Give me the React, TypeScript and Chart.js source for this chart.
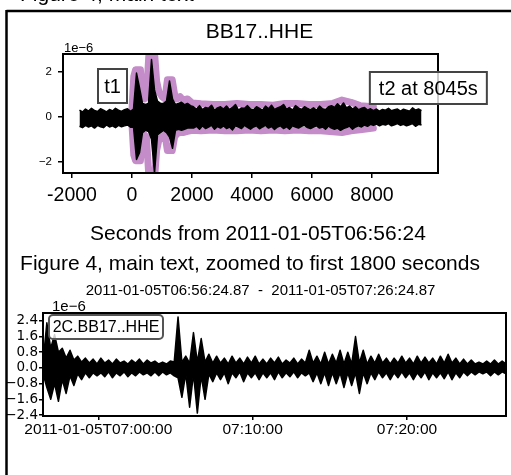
import React, { useEffect, useRef } from "react";
import { Chart, registerables } from "chart.js";

Chart.register(...registerables);

const FONT = '"Liberation Sans", Arial, Helvetica, sans-serif';
const DEJAVU = '"DejaVu Sans", sans-serif';

// ---------- top panel (seconds from 2011-01-05T06:56:24), units 1e-6 ----------
// Trace drawn as per-bin max / min (min-max decimation, bin = 100 s)
const TOP_T0 = -1750;
const TOP_DT = 100;
const TOP_MAX = [
  0.3, 0.22, 0.35, 0.26, 0.38, 0.28, 0.24, 0.36, 0.3, 0.22,
  0.33, 0.26, 0.38, 0.3, 0.24, 0.32, 0.36, 0.25, 0.35,
  1.95, 1.3, 0.6, 0.55, 0.6, 2.55, 1.2, 0.7, 0.6, 0.6,
  0.7, 1.6, 0.8, 0.55, 0.6, 0.65, 0.55, 0.6, 0.5,
  0.45, 0.35, 0.5, 0.32, 0.42, 0.38, 0.52, 0.3, 0.4, 0.45,
  0.35, 0.48, 0.33, 0.42, 0.55, 0.3, 0.4, 0.38, 0.5, 0.35,
  0.32, 0.45, 0.38, 0.3, 0.48, 0.36, 0.52, 0.33, 0.4, 0.45,
  0.55, 0.35, 0.42, 0.3, 0.5, 0.4, 0.33, 0.45, 0.38, 0.32,
  0.4, 0.3, 0.48, 0.36, 0.33, 0.45, 0.5, 0.42, 0.58, 0.45,
  0.62, 0.4, 0.48, 0.35, 0.45, 0.32, 0.38, 0.42, 0.3, 0.36,
  0.28, 0.35, 0.25, 0.33, 0.3, 0.38, 0.27, 0.32, 0.35, 0.26,
  0.34, 0.3, 0.25, 0.4, 0.3, 0.35, 0.28,
];
const TOP_MIN = [
  -0.42, -0.48, -0.38, -0.45, -0.4, -0.5, -0.38, -0.44, -0.48, -0.36,
  -0.45, -0.4, -0.48, -0.38, -0.44, -0.4, -0.36, -0.46, -0.45,
  -1.9, -1.6, -0.7, -0.6, -0.65, -1.0, -2.5, -0.8, -0.7, -0.6,
  -0.7, -0.9, -1.4, -0.6, -0.55, -0.6, -0.55, -0.5, -0.5,
  -0.5, -0.42, -0.55, -0.4, -0.52, -0.45, -0.38, -0.55, -0.43, -0.5,
  -0.4, -0.52, -0.45, -0.58, -0.4, -0.45, -0.52, -0.38, -0.47, -0.55,
  -0.45, -0.4, -0.53, -0.45, -0.38, -0.5, -0.43, -0.56, -0.45, -0.4,
  -0.52, -0.44, -0.55, -0.4, -0.45, -0.5, -0.42, -0.38, -0.48, -0.52,
  -0.45, -0.4, -0.5, -0.45, -0.55, -0.42, -0.5, -0.55, -0.5, -0.6,
  -0.52, -0.48, -0.42, -0.55, -0.45, -0.4, -0.45, -0.36, -0.42, -0.33,
  -0.38, -0.32, -0.4, -0.33, -0.36, -0.3, -0.4, -0.35, -0.3, -0.38,
  -0.33, -0.4, -0.35, -0.3, -0.42, -0.33, -0.36,
];
const ENV_TIMES = [0, 60, 120, 280, 340, 420, 480, 560, 760, 820, 900, 1000, 1100, 1180, 1340, 1420, 1500, 1600, 1700, 1850, 2000, 2300, 2700, 3100, 3500, 3900, 4300, 4700, 5100, 5500, 5900, 6300, 6700, 7000, 7300, 7600, 8045];
const ENV_UPPER = [0.35, 1.8, 2.1, 2.1, 1.0, 0.8, 0.9, 2.7, 2.7, 1.6, 1.1, 0.9, 0.8, 1.65, 1.65, 1.0, 0.8, 0.9, 0.75, 0.8, 0.62, 0.58, 0.55, 0.55, 0.6, 0.55, 0.55, 0.52, 0.6, 0.6, 0.55, 0.55, 0.6, 0.75, 0.65, 0.5, 0.45];
const ENV_LOWER = [-0.35, -1.7, -1.95, -1.95, -1.0, -0.8, -0.9, -2.6, -2.6, -1.5, -1.0, -0.9, -0.8, -1.5, -1.5, -0.9, -0.75, -0.7, -0.7, -0.65, -0.6, -0.62, -0.58, -0.62, -0.62, -0.58, -0.62, -0.58, -0.62, -0.58, -0.62, -0.62, -0.66, -0.7, -0.62, -0.58, -0.5];
const TOP_X_TICKS = [-2000, 0, 2000, 4000, 6000, 8000];
const TOP_X_LABELS = ["-2000", "0", "2000", "4000", "6000", "8000"];
const TOP_Y_TICKS = [-2, 0, 2];
const TOP_Y_LABELS = ["\u22122", "0", "2"];
const T2_SECONDS = 8045;

// ---------- bottom panel (seconds from 06:56:24.87), units 1e-6 ----------
const BOT_T0 = 0;
const BOT_DT = 15;
const BOT_MAX = [
  0.3, 2.3, 1.0, 1.7, 0.8, 1.0, 0.5, 0.9, 0.4, 0.6,
  0.3, 0.5, 0.25, 0.45, 0.2, 0.5, 0.25, 0.4, 0.2, 0.45,
  0.25, 0.35, 0.2, 0.4, 0.25, 0.45, 0.2, 0.4, 0.25, 0.35,
  0.2, 0.3, 0.2, 0.35, 0.3, 2.6, 0.3, 0.6, 0.25, 1.8,
  0.3, 1.5, 0.3, 0.7, 0.25, 0.6, 0.25, 0.5, 0.2, 0.6,
  0.25, 0.5, 0.2, 0.55, 0.25, 0.6, 0.2, 0.45, 0.2, 0.5,
  0.25, 0.55, 0.2, 0.4, 0.25, 0.5, 0.2, 0.45, 0.25, 0.9,
  0.25, 0.6, 0.2, 0.8, 0.2, 0.7, 0.25, 0.9, 0.2, 0.8,
  0.2, 1.6, 0.25, 0.9, 0.2, 0.6, 0.25, 0.7, 0.25, 0.5,
  0.2, 0.5, 0.25, 0.6, 0.25, 0.5, 0.2, 0.6, 0.25, 0.55,
  0.25, 0.5, 0.2, 0.6, 0.25, 0.7, 0.25, 0.5, 0.2, 0.45,
  0.2, 0.4, 0.2, 0.3, 0.2, 0.35, 0.2, 0.4, 0.2, 0.35,
  0.2,
];
const BOT_MIN = [
  -0.3, -1.0, -1.6, -0.8, -1.7, -0.6, -1.3, -0.4, -0.9, -0.3,
  -0.6, -0.25, -0.5, -0.25, -0.4, -0.25, -0.45, -0.2, -0.5, -0.25,
  -0.4, -0.2, -0.45, -0.25, -0.4, -0.2, -0.35, -0.25, -0.4, -0.2,
  -0.4, -0.2, -0.35, -0.25, -0.4, -0.5, -1.5, -0.3, -2.0, -0.3,
  -2.3, -0.4, -1.6, -0.3, -0.7, -0.25, -0.6, -0.25, -0.8, -0.25,
  -0.5, -0.2, -0.7, -0.25, -0.5, -0.25, -0.6, -0.25, -0.5, -0.25,
  -0.6, -0.2, -0.5, -0.25, -0.45, -0.2, -0.5, -0.25, -0.4, -0.25,
  -0.7, -0.25, -0.8, -0.25, -0.9, -0.25, -0.8, -0.25, -1.0, -0.25,
  -0.9, -0.25, -1.3, -0.25, -0.8, -0.25, -0.6, -0.2, -0.5, -0.25,
  -0.6, -0.25, -0.5, -0.2, -0.5, -0.25, -0.6, -0.25, -0.5, -0.2,
  -0.6, -0.25, -0.5, -0.25, -0.55, -0.2, -0.6, -0.25, -0.5, -0.2,
  -0.4, -0.2, -0.35, -0.2, -0.3, -0.2, -0.4, -0.2, -0.35, -0.2,
  -0.3,
];
const BOT_X_TICKS = [215.13, 815.13, 1415.13];
const BOT_X_LABELS = ["2011-01-05T07:00:00", "07:10:00", "07:20:00"];
const BOT_Y_TICKS = [-2.4, -1.6, -0.8, 0.0, 0.8, 1.6, 2.4];
const BOT_Y_LABELS = ["\u22122.4", "\u22121.6", "\u22120.8", "0.0", "0.8", "1.6", "2.4"];

const toPoints = (t0: number, dt: number, vals: number[]) =>
  vals.map((v, i) => ({ x: t0 + i * dt, y: v }));
const zipPoints = (xs: number[], ys: number[]) => xs.map((x, i) => ({ x, y: ys[i] }));

function roundRect(ctx: CanvasRenderingContext2D, x: number, y: number, w: number, h: number, r: number) {
  ctx.beginPath();
  ctx.moveTo(x + r, y);
  ctx.lineTo(x + w - r, y);
  ctx.arcTo(x + w, y, x + w, y + r, r);
  ctx.lineTo(x + w, y + h - r);
  ctx.arcTo(x + w, y + h, x + w - r, y + h, r);
  ctx.lineTo(x + r, y + h);
  ctx.arcTo(x, y + h, x, y + h - r, r);
  ctx.lineTo(x, y + r);
  ctx.arcTo(x, y, x + r, y, r);
  ctx.closePath();
}

function textBox(ctx: CanvasRenderingContext2D, text: string, cx: number, cy: number, w: number, h: number, size: number) {
  ctx.save();
  ctx.fillStyle = "rgba(255,255,255,0.8)";
  ctx.fillRect(cx - w / 2, cy - h / 2, w, h);
  ctx.strokeStyle = "#444";
  ctx.lineWidth = 2;
  ctx.strokeRect(cx - w / 2, cy - h / 2, w, h);
  ctx.fillStyle = "#000";
  ctx.font = `${size}px ${FONT}`;
  ctx.textAlign = "center";
  ctx.textBaseline = "middle";
  ctx.fillText(text, cx, cy + 1);
  ctx.restore();
}

const topDecor = {
  id: "topDecor",
  afterDraw(chart: any) {
    const ctx: CanvasRenderingContext2D = chart.ctx;
    const a = chart.chartArea;
    const xs = chart.scales.x;
    ctx.save();
    ctx.strokeStyle = "#000";
    ctx.lineWidth = 2.5;
    ctx.beginPath();
    ctx.moveTo(6.5, 11);
    ctx.lineTo(511, 11);
    ctx.moveTo(6.5, 10);
    ctx.lineTo(6.5, chart.height);
    ctx.stroke();
    ctx.fillStyle = "#000";
    ctx.font = `21px ${FONT}`;
    ctx.textAlign = "left";
    ctx.textBaseline = "alphabetic";
    ctx.fillText("Figure 4, main text", 20, 1);
    ctx.textAlign = "center";
    ctx.fillText("BB17..HHE", 259.5, 38);
    ctx.fillText("Seconds from 2011-01-05T06:56:24", 258, 240);
    ctx.textAlign = "left";
    ctx.font = `13px ${FONT}`;
    ctx.fillText("1e\u22126", 64, 52);
    ctx.lineWidth = 2;
    ctx.strokeRect(a.left, a.top, a.right - a.left, a.bottom - a.top);
    ctx.restore();
    textBox(ctx, "t1", 112.5, 86, 29, 34, 20);
    const t2x = xs.getPixelForValue(T2_SECONDS);
    textBox(ctx, `t2 at ${T2_SECONDS}s`, t2x + 55, 88, 117, 32, 20);
  },
};

const botDecor = {
  id: "botDecor",
  afterDraw(chart: any) {
    const ctx: CanvasRenderingContext2D = chart.ctx;
    const a = chart.chartArea;
    ctx.save();
    ctx.strokeStyle = "#000";
    ctx.lineWidth = 2.5;
    ctx.beginPath();
    ctx.moveTo(6.5, 0);
    ctx.lineTo(6.5, chart.height);
    ctx.stroke();
    ctx.fillStyle = "#000";
    ctx.textBaseline = "alphabetic";
    ctx.textAlign = "center";
    ctx.font = `21px ${FONT}`;
    ctx.fillText("Figure 4, main text, zoomed to first 1800 seconds", 250, 20);
    ctx.font = `15px ${FONT}`;
    ctx.fillText("2011-01-05T06:56:24.87  -  2011-01-05T07:26:24.87", 260.5, 45);
    ctx.textAlign = "left";
    ctx.fillText("1e\u22126", 52, 61);
    ctx.lineWidth = 2;
    ctx.strokeRect(a.left, a.top, a.right - a.left, a.bottom - a.top);
    roundRect(ctx, 49, 65, 114, 24, 4);
    ctx.fillStyle = "rgba(255,255,255,0.8)";
    ctx.fill();
    ctx.strokeStyle = "#555";
    ctx.lineWidth = 2;
    ctx.stroke();
    ctx.fillStyle = "#000";
    ctx.font = `16px ${FONT}`;
    ctx.textAlign = "center";
    ctx.textBaseline = "middle";
    ctx.fillText("2C.BB17..HHE", 106, 78);
    ctx.restore();
  },
};

const tickGrid = (len: number) => ({
  display: true,
  drawOnChartArea: false,
  drawTicks: true,
  tickLength: len,
  color: "#000",
  lineWidth: 1.5,
});

const bandSets = (t0: number, dt: number, maxV: number[], minV: number[], w: number, firstIndex: number) => [
  {
    data: toPoints(t0, dt, maxV),
    borderColor: "#000",
    borderWidth: w,
    borderJoinStyle: "round",
    pointRadius: 0,
    fill: false,
    order: 0,
  },
  {
    data: toPoints(t0, dt, minV),
    borderColor: "#000",
    borderWidth: w,
    borderJoinStyle: "round",
    backgroundColor: "#000",
    pointRadius: 0,
    fill: firstIndex,
    order: 0,
  },
];

export default function App() {
  const topRef = useRef<HTMLCanvasElement>(null);
  const botRef = useRef<HTMLCanvasElement>(null);

  useEffect(() => {
    const top = new Chart(topRef.current!, {
      type: "line",
      data: {
        datasets: [
          ...bandSets(TOP_T0, TOP_DT, TOP_MAX, TOP_MIN, 1.5, 0),
          {
            data: zipPoints(ENV_TIMES, ENV_UPPER),
            borderColor: "rgb(196,140,200)",
            borderWidth: 7,
            borderJoinStyle: "round",
            borderCapStyle: "round",
            pointRadius: 0,
            fill: false,
            order: 1,
          },
          {
            data: zipPoints(ENV_TIMES, ENV_LOWER),
            borderColor: "rgb(196,140,200)",
            borderWidth: 7,
            borderJoinStyle: "round",
            borderCapStyle: "round",
            pointRadius: 0,
            fill: false,
            order: 2,
          },
        ],
      },
      options: {
        responsive: false,
        animation: false,
        events: [],
        layout: { padding: { left: 0, top: 54, right: 73, bottom: 0 } },
        plugins: { legend: { display: false }, tooltip: { enabled: false } },
        scales: {
          x: {
            type: "linear",
            min: -2300,
            max: 10200,
            afterFit: (s: any) => { s.height = 77; },
            afterBuildTicks: (s: any) => { s.ticks = TOP_X_TICKS.map((v) => ({ value: v })); },
            ticks: {
              autoSkip: false,
              maxRotation: 0,
              padding: 6,
              color: "#000",
              font: { family: FONT, size: 19.5 },
              callback: (_v: any, i: number) => TOP_X_LABELS[i],
            },
            grid: tickGrid(5),
            border: { display: false },
          },
          y: {
            type: "linear",
            min: -2.5,
            max: 2.8,
            afterFit: (s: any) => { s.width = 63; },
            afterBuildTicks: (s: any) => { s.ticks = TOP_Y_TICKS.map((v) => ({ value: v })); },
            ticks: {
              autoSkip: false,
              padding: 6,
              color: "#000",
              font: { family: FONT, size: 11.5 },
              callback: (_v: any, i: number) => TOP_Y_LABELS[i],
            },
            grid: tickGrid(5),
            border: { display: false },
          },
        },
      } as any,
      plugins: [topDecor],
    });

    const bot = new Chart(botRef.current!, {
      type: "line",
      data: {
        datasets: bandSets(BOT_T0, BOT_DT, BOT_MAX, BOT_MIN, 1.5, 0) as any,
      },
      options: {
        responsive: false,
        animation: false,
        events: [],
        layout: { padding: { left: 0, top: 63, right: 5, bottom: 0 } },
        plugins: { legend: { display: false }, tooltip: { enabled: false } },
        scales: {
          x: {
            type: "linear",
            min: 0,
            max: 1800,
            afterFit: (s: any) => { s.height = 59; },
            afterBuildTicks: (s: any) => { s.ticks = BOT_X_TICKS.map((v) => ({ value: v })); },
            ticks: {
              autoSkip: false,
              maxRotation: 0,
              padding: 0,
              color: "#000",
              font: { family: FONT, size: 15.5 },
              callback: (_v: any, i: number) => BOT_X_LABELS[i],
            },
            grid: tickGrid(4),
            border: { display: false },
          },
          y: {
            type: "linear",
            min: -2.45,
            max: 2.8,
            afterFit: (s: any) => { s.width = 43; },
            afterBuildTicks: (s: any) => { s.ticks = BOT_Y_TICKS.map((v) => ({ value: v })); },
            ticks: {
              autoSkip: false,
              padding: 1,
              color: "#000",
              font: { family: DEJAVU, size: 13.5 },
              callback: (_v: any, i: number) => BOT_Y_LABELS[i],
            },
            grid: tickGrid(4),
            border: { display: false },
          },
        },
      } as any,
      plugins: [botDecor],
    });

    return () => {
      top.destroy();
      bot.destroy();
    };
  }, []);

  return (
    <div style={{ position: "absolute", left: 0, top: 0, width: 511, height: 475, overflow: "hidden", background: "#fff" }}>
      <canvas ref={topRef} width={511} height={250} style={{ position: "absolute", left: 0, top: 0, width: 511, height: 250 }} />
      <canvas ref={botRef} width={511} height={225} style={{ position: "absolute", left: 0, top: 250, width: 511, height: 225 }} />
    </div>
  );
}
